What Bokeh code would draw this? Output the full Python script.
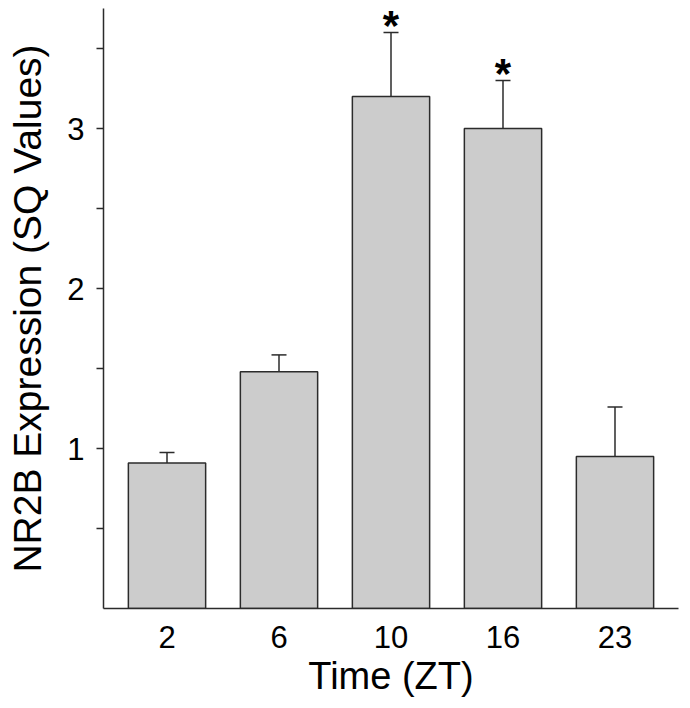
from bokeh.plotting import figure
from bokeh.models import ColumnDataSource, FactorRange, Range1d, FixedTicker, Whisker, TeeHead
from bokeh.core.properties import value
from bokeh.embed import file_html
from bokeh.resources import INLINE

# Data
times = ["2", "6", "10", "16", "23"]
means = [0.91, 1.48, 3.20, 3.00, 0.95]
errors = [0.065, 0.105, 0.40, 0.30, 0.31]
marks = ["", "", "*", "*", ""]
y_major_ticks = [1, 2, 3]
y_minor_ticks = [0.5, 1.5, 2.5, 3.5]

upper = [m + e for m, e in zip(means, errors)]
src = ColumnDataSource(dict(t=times, m=means, up=upper, mk=marks))

FONT = "Liberation Sans"
DARK = "#2b2b2b"

p = figure(
    width=682, height=700,
    x_range=FactorRange(factors=times, range_padding=0.067, range_padding_units="absolute"),
    y_range=Range1d(0, 3.75),
    output_backend="svg", toolbar_location=None,
    min_border_left=103, min_border_right=4, min_border_top=8, min_border_bottom=92,
)
p.outline_line_color = None
p.xgrid.grid_line_color = None
p.ygrid.grid_line_color = None

p.vbar(x="t", top="m", width=0.69, source=src, fill_color="#cccccc",
       line_color=DARK, line_width=1.5)

wh = Whisker(base="t", upper="up", lower="m", source=src, line_color=DARK, line_width=1.5,
             upper_head=TeeHead(size=15, line_color=DARK, line_width=1.5), lower_head=None)
p.add_layout(wh)

p.text(x="t", y="up", text="mk", source=src, text_font=value(FONT), text_font_style="bold",
       text_font_size="42px", text_align="center", text_baseline="middle",
       y_offset=-7, text_color="black")

# Axes
p.yaxis.ticker = FixedTicker(ticks=y_major_ticks, minor_ticks=y_minor_ticks)
for ax in (p.xaxis[0], p.yaxis[0]):
    ax.axis_line_color = DARK
    ax.axis_line_width = 1.5
    ax.major_label_text_font = FONT
    ax.major_label_text_font_size = "31px"
    ax.major_label_text_color = "black"
    ax.axis_label_text_font = FONT
    ax.axis_label_text_font_style = "normal"
    ax.axis_label_text_color = "black"

p.yaxis.axis_label_text_font_size = "39px"
p.xaxis.axis_label_text_font_size = "38px"

p.yaxis.major_tick_out = 7
p.yaxis.major_tick_in = 0
p.yaxis.minor_tick_out = 7
p.yaxis.minor_tick_in = 0
p.yaxis.major_tick_line_color = DARK
p.yaxis.minor_tick_line_color = DARK
p.yaxis.major_tick_line_width = 1.5
p.yaxis.minor_tick_line_width = 1.5
p.yaxis.major_label_standoff = 12
p.yaxis.axis_label = "NR2B Expression (SQ Values)"
p.yaxis.axis_label_standoff = 15

p.xaxis.major_tick_out = 0
p.xaxis.major_tick_in = 0
p.xaxis.major_tick_line_color = None
p.xaxis.major_label_standoff = 17
p.xaxis.axis_label = "Time (ZT)"
p.xaxis.axis_label_standoff = 4

open("out.html", "w").write(file_html(p, INLINE))
